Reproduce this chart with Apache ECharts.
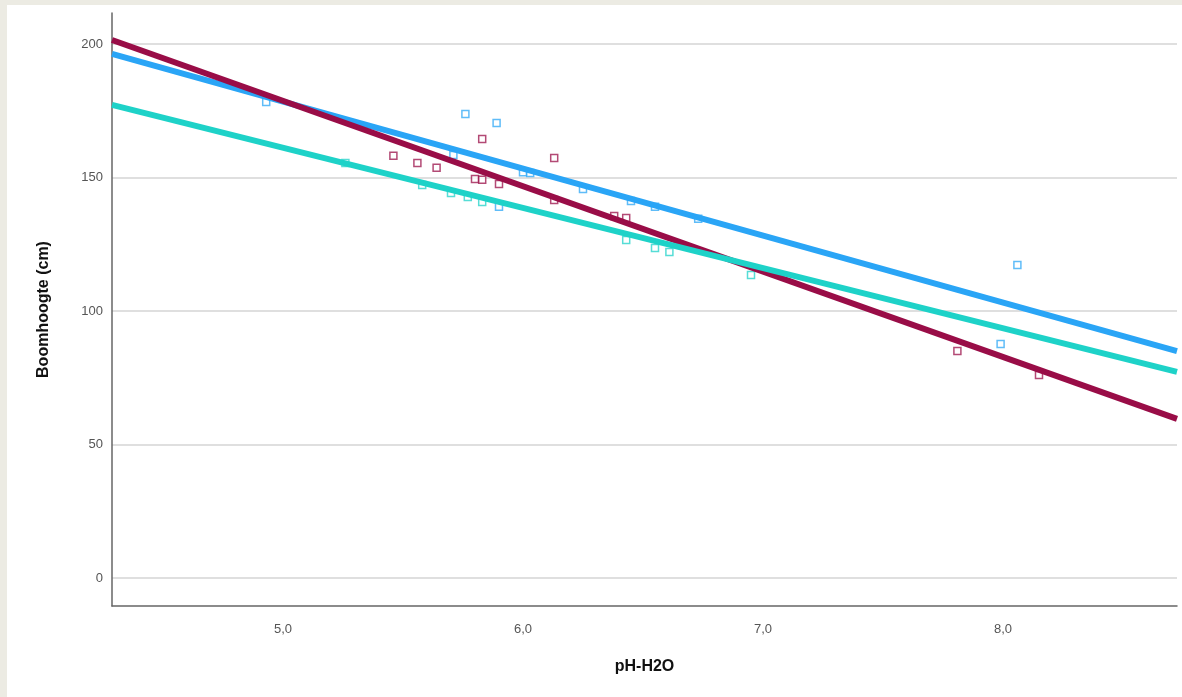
<!DOCTYPE html>
<html>
<head>
<meta charset="utf-8">
<script src="https://cdn.jsdelivr.net/npm/echarts@6/dist/echarts.min.js"></script>
<style>
html,body{margin:0;padding:0;background:#ecebe3;width:1182px;height:697px;overflow:hidden;}
#chart{position:absolute;left:7px;top:5px;width:1175px;height:692px;background:#ffffff;}
</style>
</head>
<body>
<div id="chart"></div>
<script>
// ---- data ----
const xTicks = [5, 6, 7, 8];
const yTicks = [0, 50, 100, 150, 200];
const xRange = [4.2875, 8.725];
const yRange = [-10.5, 211.6];

// scatter points [pH, height]
const bluePoints = [
  [4.93, 178.3], [5.71, 158.4], [5.76, 173.8], [5.89, 170.4], [5.90, 139.0],
  [6.00, 152.0], [6.03, 151.7], [6.25, 145.7], [6.45, 141.2], [6.55, 139.0],
  [6.73, 134.5], [7.99, 87.6], [8.06, 117.2]
];
const maroonPoints = [
  [5.46, 158.1], [5.56, 155.4], [5.64, 153.6], [5.80, 149.4], [5.83, 149.1],
  [5.83, 164.4], [5.90, 147.6], [6.13, 157.3], [6.13, 141.6], [6.38, 135.6],
  [6.43, 134.8], [7.81, 85.0], [8.15, 76.0]
];
const tealPoints = [
  [5.26, 155.4], [5.58, 147.2], [5.70, 144.2], [5.77, 142.7], [5.83, 140.8],
  [6.43, 126.6], [6.55, 123.6], [6.61, 122.1], [6.95, 113.5]
];

// fit lines: values at left and right edge of the plot
const blueFit = [[4.2875, 196.3], [8.725, 85.0]];
const maroonFit = [[4.2875, 201.5], [8.725, 59.6]];
const tealFit = [[4.2875, 177.2], [8.725, 77.2]];

const colBlue = '#2aa5f6';
const colMaroon = '#990d47';
const colTeal = '#1ed2c8';

function pts(data, color) {
  return {
    type: 'scatter', data: data, symbol: 'rect', symbolSize: 7, z: 2,
    itemStyle: { color: '#ffffff', borderColor: color, borderWidth: 1.5, opacity: 0.75 },
    silent: true
  };
}
function fit(data, color, z) {
  return {
    type: 'line', data: data, showSymbol: false, z: z, silent: true,
    lineStyle: { color: color, width: 6 }
  };
}

const chart = echarts.init(document.getElementById('chart'), null, { renderer: 'canvas' });
chart.setOption({
  animation: false,
  backgroundColor: '#ffffff',
  grid: { left: 105, right: 5, top: 8, bottom: 91 },
  xAxis: {
    type: 'value', min: xRange[0], max: xRange[1],
    name: 'pH-H2O', nameLocation: 'middle', nameGap: 53,
    nameTextStyle: { fontFamily: 'Liberation Sans', fontSize: 16, fontWeight: 'bold', color: '#111' },
    axisLine: { show: true, onZero: false, lineStyle: { color: '#666', width: 1.5 } },
    axisTick: { show: false, customValues: xTicks },
    axisLabel: { customValues: xTicks, margin: 17, fontFamily: 'Liberation Sans', fontSize: 13, color: '#555',
      formatter: v => v.toFixed(1).replace('.', ',') },
    splitLine: { show: false }
  },
  yAxis: {
    type: 'value', min: yRange[0], max: yRange[1],
    name: 'Boomhoogte (cm)', nameLocation: 'middle', nameGap: 60, nameRotate: 90,
    nameTextStyle: { fontFamily: 'Liberation Sans', fontSize: 16, fontWeight: 'bold', color: '#111' },
    axisLine: { show: true, onZero: false, lineStyle: { color: '#666', width: 1.5 } },
    axisTick: { show: false, customValues: yTicks },
    axisLabel: { customValues: yTicks, margin: 9, fontFamily: 'Liberation Sans', fontSize: 13, color: '#555' },
    splitLine: { show: true, lineStyle: { color: '#d4d4d4', width: 1.5 } }
  },
  series: [
    pts(bluePoints, colBlue),
    pts(maroonPoints, colMaroon),
    pts(tealPoints, colTeal),
    fit(blueFit, colBlue, 3),
    fit(maroonFit, colMaroon, 4),
    fit(tealFit, colTeal, 5)
  ]
});
</script>
</body>
</html>
